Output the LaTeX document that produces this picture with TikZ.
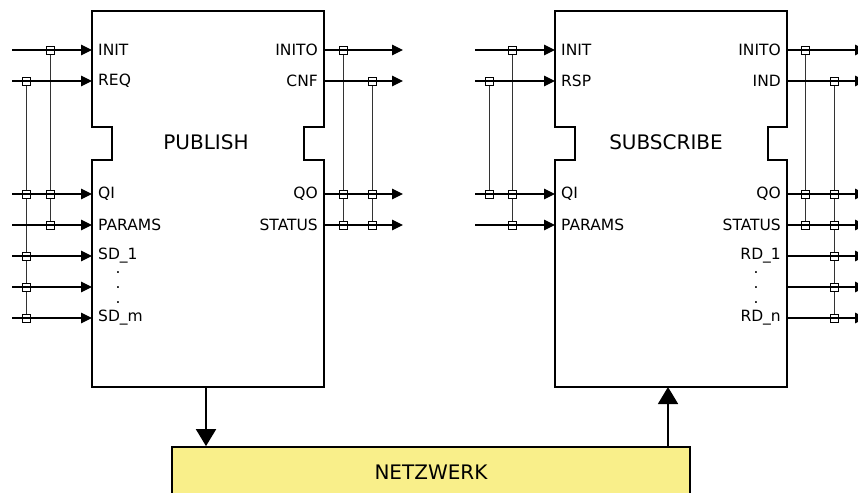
\documentclass[tikz,border=0pt]{standalone}
\usepackage{fontspec}
\setmainfont{DejaVu Sans}
\usetikzlibrary{arrows.meta}
\usetikzlibrary{positioning}
\definecolor{netyellow}{RGB}{249,239,138}

\begin{document}
\begin{tikzpicture}[x=1pt,y=-1pt,
  fb/.style={line width=1.7pt,line join=miter},
  sig/.style={line width=1.2pt,-{Triangle[length=11pt,width=10.5pt]}},
  bus/.style={line width=0.8pt,black!80},
  jn/.style={draw,fill=white,line width=0.9pt,inner sep=0pt,minimum size=8pt},
  lbl/.style={font=\fontsize{15.5}{17}\selectfont,inner sep=0pt},
  ttl/.style={font=\fontsize{20}{22}\selectfont,inner sep=0pt},
  bigarr/.style={line width=1.7pt,-{Triangle[length=17pt,width=20pt]}}]
\useasboundingbox (0,0) rectangle (858,492);

% function blocks
\draw[fb] (92,11) -- (324,11) -- (324,127) -- (304,127) -- (304,160) -- (324,160)
  -- (324,387) -- (92,387) -- (92,160) -- (112,160) -- (112,127) -- (92,127) -- cycle;
\draw[fb] (555,11) -- (787,11) -- (787,127) -- (768,127) -- (768,160) -- (787,160)
  -- (787,387) -- (555,387) -- (555,160) -- (575,160) -- (575,127) -- (555,127) -- cycle;
\node[ttl] (pub) at (206,142) {PUBLISH};
\node[ttl] (sub) at (666,142) {SUBSCRIBE};

% port coordinates
\foreach \n/\y in {init/50,req/81,qi/194,params/225,sd1/256,sdx/287,sdm/318} {
  \coordinate (pi-\n) at (92,\y);
  \coordinate (pi-\n-s) at (12,\y);
}
\foreach \n/\y in {inito/50,cnf/81,qo/194,status/225} {
  \coordinate (po-\n) at (324,\y);
  \coordinate (po-\n-e) at (403,\y);
}
\foreach \n/\y in {init/50,rsp/81,qi/194,params/225} {
  \coordinate (si-\n) at (555,\y);
  \coordinate (si-\n-s) at (475,\y);
}
\foreach \n/\y in {inito/50,ind/81,qo/194,status/225,rd1/256,rdx/287,rdn/318} {
  \coordinate (so-\n) at (787,\y);
  \coordinate (so-\n-e) at (866,\y);
}

% WITH columns
\draw[bus] (50,50) -- (50,225);
\draw[bus] (26,81) -- (26,318);
\draw[bus] (343,50) -- (343,225);
\draw[bus] (372,81) -- (372,225);
\draw[bus] (512,50) -- (512,225);
\draw[bus] (489,81) -- (489,194);
\draw[bus] (805,50) -- (805,225);
\draw[bus] (834,81) -- (834,318);

% junctions
\foreach \x/\y in {50/50,50/194,50/225,26/81,26/194,26/256,26/287,26/318,
  343/50,343/194,343/225,372/81,372/194,372/225,
  512/50,512/194,512/225,489/81,489/194,
  805/50,805/194,805/225,834/81,834/194,834/225,834/256,834/287,834/318}
  \node[jn] at (\x,\y) {};

% signals
\foreach \n in {init,req,qi,params,sd1,sdx,sdm}
  \draw[sig] (pi-\n-s) -- (pi-\n);
\foreach \n in {inito,cnf,qo,status}
  \draw[sig] (po-\n) -- (po-\n-e);
\foreach \n in {init,rsp,qi,params}
  \draw[sig] (si-\n-s) -- (si-\n);
\foreach \n in {inito,ind,qo,status,rd1,rdx,rdn}
  \draw[sig] (so-\n) -- (so-\n-e);

% port labels
\node[lbl,right=6pt of pi-init] {INIT};
\node[lbl,right=6pt of pi-req] {REQ};
\node[lbl,right=6pt of pi-qi] {QI};
\node[lbl,right=6pt of pi-params] {PARAMS};
\node[lbl,right=6pt of pi-sd1] {SD\_1};
\node[lbl,right=6pt of pi-sdm] {SD\_m};
\foreach \y in {273,288,303} \node[lbl] at (118,\y) {.};
\node[lbl,left=6pt of po-inito] {INITO};
\node[lbl,left=6pt of po-cnf] {CNF};
\node[lbl,left=6pt of po-qo] {QO};
\node[lbl,left=6pt of po-status] {STATUS};
\node[lbl,right=6pt of si-init] {INIT};
\node[lbl,right=6pt of si-rsp] {RSP};
\node[lbl,right=6pt of si-qi] {QI};
\node[lbl,right=6pt of si-params] {PARAMS};
\node[lbl,left=6pt of so-inito] {INITO};
\node[lbl,left=6pt of so-ind] {IND};
\node[lbl,left=6pt of so-qo] {QO};
\node[lbl,left=6pt of so-status] {STATUS};
\node[lbl,left=6pt of so-rd1] {RD\_1};
\node[lbl,left=6pt of so-rdn] {RD\_n};
\foreach \y in {273,288,303} \node[lbl] at (756,\y) {.};

% network
\node[draw,fill=netyellow,line width=1.7pt,minimum width=518pt,minimum height=50pt,
  font=\fontsize{20}{22}\selectfont] (net) at (431,472) {NETZWERK};
\coordinate (pub-out) at (206,387);
\coordinate (sub-in) at (668,387);
\draw[bigarr] (pub-out) -- (net.north -| pub-out);
\draw[bigarr] (net.north -| sub-in) -- (sub-in);
\end{tikzpicture}
\end{document}
